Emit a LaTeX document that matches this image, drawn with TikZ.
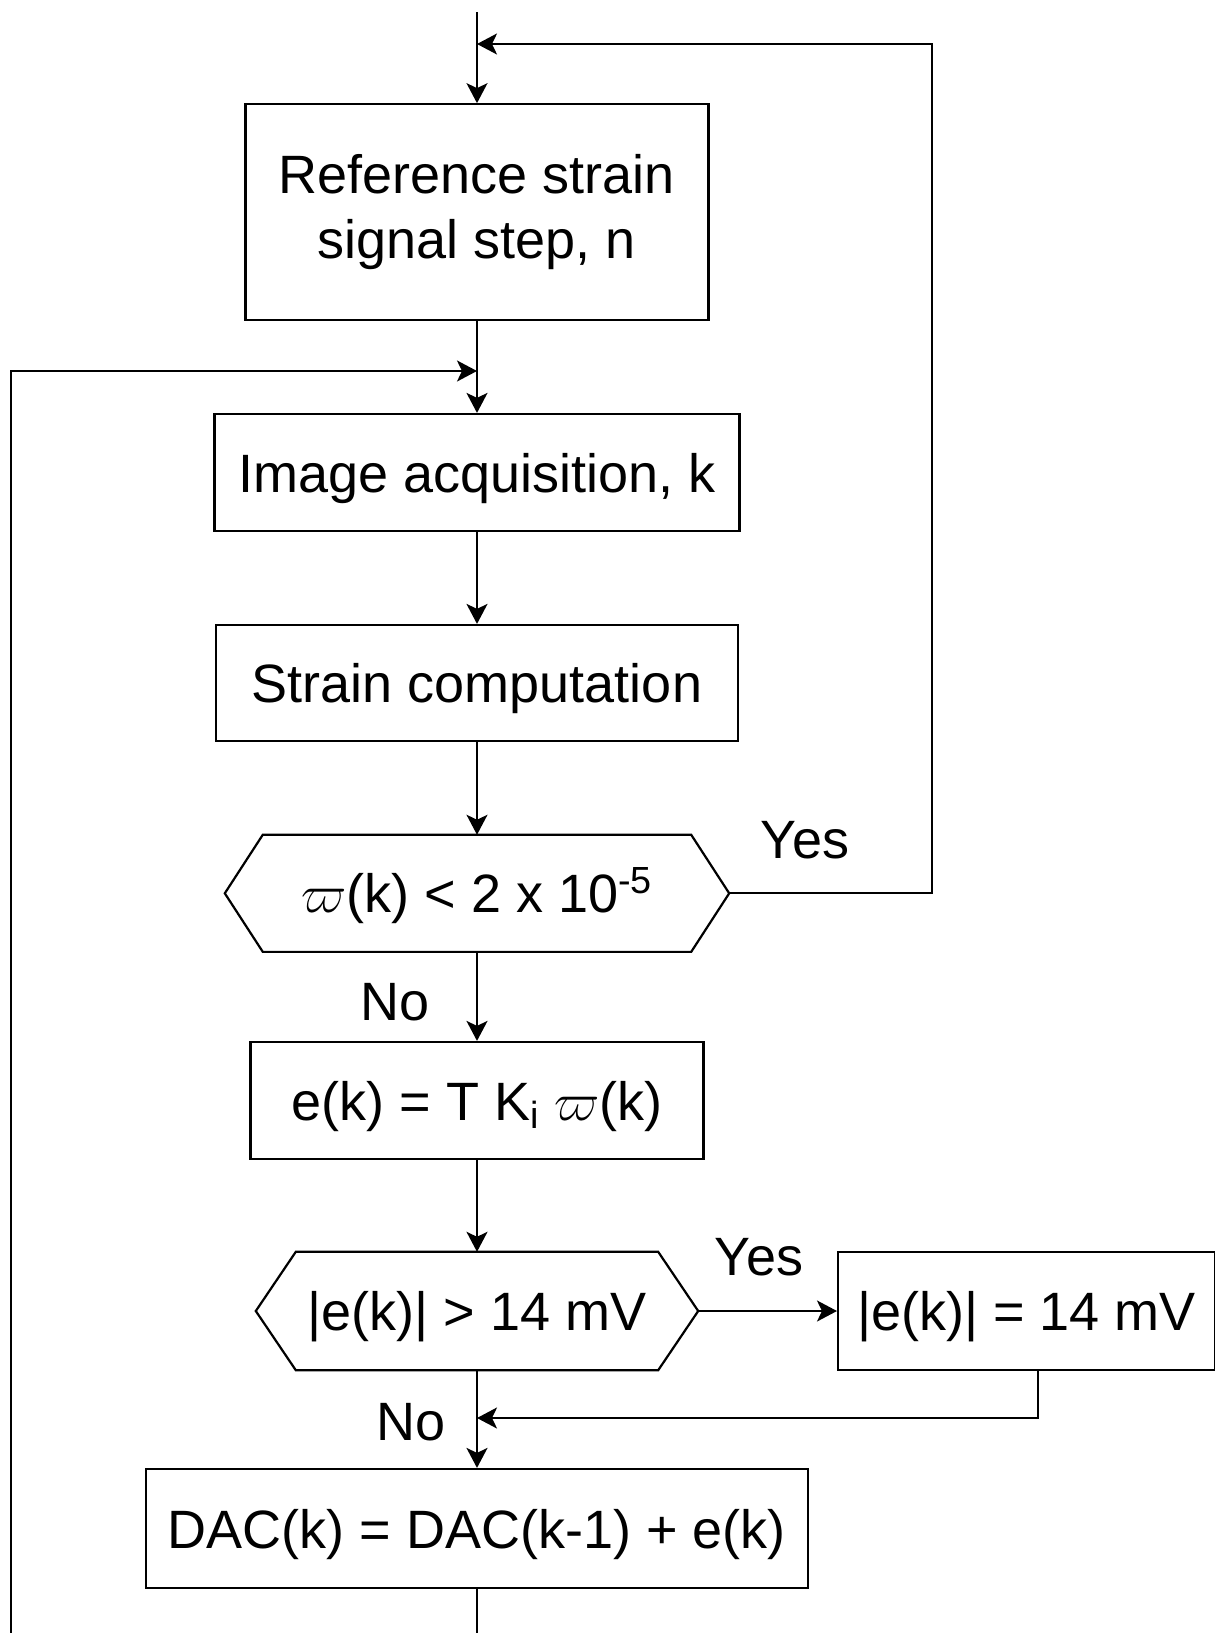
\documentclass[tikz,border=0pt]{standalone}
\usepackage{fix-cm}
\usepackage{fontspec}
\setmainfont{Liberation Sans}
\usetikzlibrary{arrows.meta,calc}
\begin{document}
\begin{tikzpicture}[x=1pt,y=-1pt,
  every node/.style={font=\fontsize{54}{65.6}\selectfont},
  boxml/.style={draw, line width=2.2pt, inner sep=0pt, align=center},
  box/.style={draw, line width=2.2pt, inner sep=0pt, text height=39pt, text depth=0pt},
  hexn/.style={inner sep=0pt, text height=39pt, text depth=0pt},
  lbl/.style={anchor=base, inner sep=0pt},
  con/.style={line width=2pt},
  outl/.style={line width=2.2pt, line join=miter},
  arr/.style={con, -{Stealth[length=20pt,width=21pt,inset=5pt]}}]
\useasboundingbox (0,0) rectangle (1215,1633);
\clip (0,0) rectangle (1215,1633);
\fill[white] (0,0) rectangle (1215,1633);

% boxes
\node[boxml, minimum width=463pt, minimum height=215.5pt] (b1) at (477,212) {Reference strain\\signal step, n};
\node[box, minimum width=525pt, minimum height=117pt] (b2) at (477,472.5) {Image acquisition, k};
\node[box, minimum width=522.5pt, minimum height=116pt] (b3) at (477,683) {Strain computation};
\node[hexn, minimum width=428pt, minimum height=116.7pt] (h1) at (477,893.3) {$\varpi$(k) < 2 x 10\textsuperscript{-5}};
\node[box, minimum width=453pt, minimum height=117pt] (b4) at (477,1100.5) {e(k) = T K\textsubscript{i} $\varpi$(k)};
\node[hexn, minimum width=362pt, minimum height=118pt] (h2) at (477,1311) {|e(k)| > 14 mV};
\node[box, anchor=west, minimum width=377pt, minimum height=118pt] (b5) at (837,1311) {|e(k)| = 14 mV};
\node[box, minimum width=662pt, minimum height=119pt] (b6) at (477,1528.5) {DAC(k) = DAC(k-1) + e(k)};

% hexagon outlines
\draw[outl] (h1.north west) -- (h1.north east) -- ($(h1.east)+(38,0)$) coordinate (h1R)
  -- (h1.south east) -- (h1.south west) -- ($(h1.west)-(38,0)$) -- cycle;
\draw[outl] (h2.north west) -- (h2.north east) -- ($(h2.east)+(40,0)$) coordinate (h2R)
  -- (h2.south east) -- (h2.south west) -- ($(h2.west)-(40,0)$) -- cycle;

% labels
\node[lbl] (yes1) at (805,858) {Yes};
\node[lbl] (no1) at (395.5,1020) {No};
\node[lbl] (yes2) at (759,1275) {Yes};
\node[lbl] (no2) at (411,1440) {No};

% coordinates
\coordinate (top) at (477,12);
\coordinate (fbR) at (932,44);
\coordinate (fbIn) at (477,44);
\coordinate (lb) at (10.5,1640);
\coordinate (lt) at (10.5,371);
\coordinate (li) at (477,371);
\coordinate (b5x) at (1038,0);
\coordinate (ret) at (477,1418);
\coordinate (bot) at (477,1640);

% connectors
\draw[arr] (top) -- (b1.north);
\draw[arr] (h1R) -| (fbR) -- (fbIn);
\draw[arr] (b1.south) -- (b2.north);
\draw[arr] (lb) -- (lt) -- (li);
\draw[arr] (b2.south) -- (b3.north);
\draw[arr] (b3.south) -- (h1.north);
\draw[arr] (h1.south) -- (b4.north);
\draw[arr] (b4.south) -- (h2.north);
\draw[arr] (h2R) -- (b5.west);
\draw[arr] (b5.south -| b5x) |- (ret);
\draw[arr] (h2.south) -- (b6.north);
\draw[con] (b6.south) -- (bot);
\end{tikzpicture}
\end{document}
